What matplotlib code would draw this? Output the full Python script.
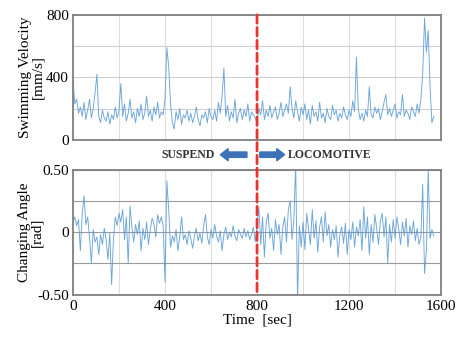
import numpy as np
import matplotlib
matplotlib.use("Agg")
import matplotlib.pyplot as plt
from matplotlib.patches import ConnectionPatch, FancyArrow

# sampled every 8 s
time_step = 8
velocity = [
    380, 230, 260, 170, 210, 150, 240, 130, 190, 260, 140, 200, 300, 420, 150, 110, 190, 140, 120, 180, 100, 160, 130, 210, 140,
    190, 360, 150, 230, 120, 170, 260, 140, 180, 110, 200, 150, 230, 130, 170, 280, 150, 190, 120, 210, 160, 240, 140, 180, 160,
    260, 590, 470, 230, 110, 70, 180, 130, 200, 100, 160, 140, 190, 120, 170, 110, 150, 210, 130, 90, 160, 140, 180, 110, 200,
    150, 130, 190, 120, 240, 170, 280, 460, 150, 220, 120, 180, 140, 260, 110, 170, 200, 130, 190, 150, 230, 120, 180, 160, 140,
    110, 200, 160, 250, 130, 190, 150, 220, 140, 180, 210, 130, 170, 240, 150, 190, 230, 170, 340, 200, 140, 250, 180, 120, 210,
    160, 230, 130, 190, 100, 220, 150, 180, 120, 240, 140, 170, 110, 200, 150, 130, 220, 160, 190, 120, 170, 140, 210, 160, 130,
    190, 150, 250, 180, 530, 200, 130, 170, 120, 190, 150, 340, 160, 140, 210, 170, 200, 130, 180, 240, 290, 160, 200, 150, 190,
    230, 140, 180, 160, 290, 150, 190, 170, 130, 210, 180, 150, 230, 170, 260, 420, 780, 560, 700, 340, 110, 150,
]
angle = [
    0.08, 0.12, 0.05, 0.10, -0.15, 0.14, 0.29, 0.06, 0.12, -0.05, -0.25, 0.02, -0.08, -0.04, -0.18, -0.02, -0.10, 0.03, -0.06, -0.22, -0.01, -0.42, -0.05, 0.12, 0.05,
    0.15, 0.08, 0.18, -0.06, 0.12, -0.25, 0.21, 0.04, -0.08, 0.06, -0.02, 0.09, -0.15, 0.03, -0.06, 0.08, -0.10, 0.02, 0.11, 0.06, -0.04, 0.14, 0.07, 0.12, 0.05,
    -0.40, 0.41, 0.18, -0.12, -0.03, -0.08, 0.02, -0.15, -0.04, 0.12, -0.06, -0.02, -0.10, 0.01, -0.05, -0.13, -0.03, 0.03, -0.07, -0.01, -0.09, 0.05, 0.14, -0.04, -0.10,
    0.02, -0.05, 0.06, -0.03, -0.08, 0.01, -0.15, -0.02, 0.04, -0.06, 0.00, -0.04, 0.05, -0.03, -0.07, 0.02, -0.02, -0.05, 0.03, -0.04, 0.01, -0.06, -0.02, 0.04, -0.08,
    0.05, 0.20, -0.10, 0.12, -0.20, 0.08, 0.15, -0.05, 0.03, -0.15, 0.10, -0.02, 0.06, -0.18, 0.04, 0.12, -0.08, 0.18, 0.25, -0.06, 0.10, 0.55, -0.55, 0.05, -0.12,
    0.08, -0.14, 0.15, 0.02, -0.10, 0.18, -0.05, 0.09, -0.16, 0.04, 0.12, -0.08, 0.16, -0.03, 0.06, -0.12, 0.02, -0.06, 0.05, -0.20, -0.02, 0.04, -0.09, 0.07, -0.18,
    0.02, -0.06, 0.08, -0.12, 0.04, -0.03, 0.10, -0.15, 0.20, -0.05, 0.12, -0.18, 0.06, -0.08, 0.14, 0.03, -0.10, 0.09, 0.15, -0.04, 0.12, -0.25, 0.06, -0.08, 0.10,
    -0.05, 0.12, 0.02, -0.10, 0.08, -0.03, 0.11, -0.12, 0.05, -0.02, 0.09, -0.07, 0.03, -0.10, -0.04, 0.38, -0.33, -0.15, 0.50, -0.05, 0.02, -0.03,
]
x_ticks = [0, 400, 800, 1200, 1600]
vel_ticks = [0, 400, 800]
angle_ticks = [-0.5, 0, 0.5]
angle_tick_labels = ["-0.50", "0", "0.50"]
switch_time = 800

t = np.arange(len(velocity)) * time_step

plt.rcParams["font.family"] = ["Liberation Serif", "DejaVu Serif"]
line_color = "#5b9bd5"
frame_color = "#808080"

fig = plt.figure(figsize=(4.59, 3.37), dpi=100)
ax1 = fig.add_axes([0.159, 0.585, 0.802, 0.371])
ax2 = fig.add_axes([0.159, 0.126, 0.802, 0.371])

ax1.plot(t, velocity, color=line_color, lw=0.65, alpha=0.9)
ax2.plot(t, angle, color=line_color, lw=0.65, alpha=0.9)

for ax in (ax1, ax2):
    ax.set_xlim(0, 1600)
    ax.set_xticks(x_ticks)
    ax.set_xticks([200, 600, 1000, 1400], minor=True)
    ax.grid(True, which="both", axis="x", color="#dedede", lw=0.8)
    ax.tick_params(which="both", length=0, labelsize=11, pad=3)
    for s in ax.spines.values():
        s.set_color(frame_color)
        s.set_linewidth(1.3)
    ax.set_axisbelow(True)

ax1.set_ylim(0, 800)
ax1.set_yticks(vel_ticks)
ax1.set_yticks([200, 600], minor=True)
ax1.grid(True, which="both", axis="y", color="#cfcfcf", lw=0.8)
ax1.tick_params(axis="x", labelbottom=False)
ax1.set_ylabel("Swimming Velocity\n[mm/s]", fontsize=11, linespacing=1.0)
ax1.yaxis.set_label_coords(-0.077, 0.5)

ax2.set_ylim(-0.5, 0.5)
ax2.set_yticks(angle_ticks)
ax2.set_yticklabels(angle_tick_labels)
ax2.set_yticks([-0.25, 0.25], minor=True)
ax2.grid(True, which="both", axis="y", color="#9a9a9a", lw=0.8)
ax2.tick_params(axis="x", pad=4)
ax2.set_ylabel("Changing Angle\n[rad]", fontsize=11, linespacing=1.0)
ax2.yaxis.set_label_coords(-0.08, 0.5)
ax2.set_xlabel("Time  [sec]", fontsize=11, labelpad=0)

# red dashed divider through both panels
con = ConnectionPatch(xyA=(switch_time, 800), coordsA=ax1.transData,
                      xyB=(switch_time, -0.5), coordsB=ax2.transData,
                      color="#e8352f", lw=2, linestyle=(0, (3, 1.6)), zorder=5)
fig.add_artist(con)

# phase arrows
arrow_color = "#3d72b8"
fig.patches.append(FancyArrow(0.538, 0.541, -0.058, 0, width=0.016, head_width=0.036,
                              head_length=0.017, length_includes_head=True,
                              color=arrow_color, transform=fig.transFigure, figure=fig))
fig.patches.append(FancyArrow(0.566, 0.541, 0.054, 0, width=0.016, head_width=0.036,
                              head_length=0.017, length_includes_head=True,
                              color=arrow_color, transform=fig.transFigure, figure=fig))
fig.text(0.469, 0.541, "SUSPEND", ha="right", va="center", fontsize=8.5,
         fontweight="bold", color="#333333")
fig.text(0.627, 0.541, "LOCOMOTIVE", ha="left", va="center", fontsize=8.5,
         fontweight="bold", color="#333333")

fig.savefig("out.png", dpi=100)
